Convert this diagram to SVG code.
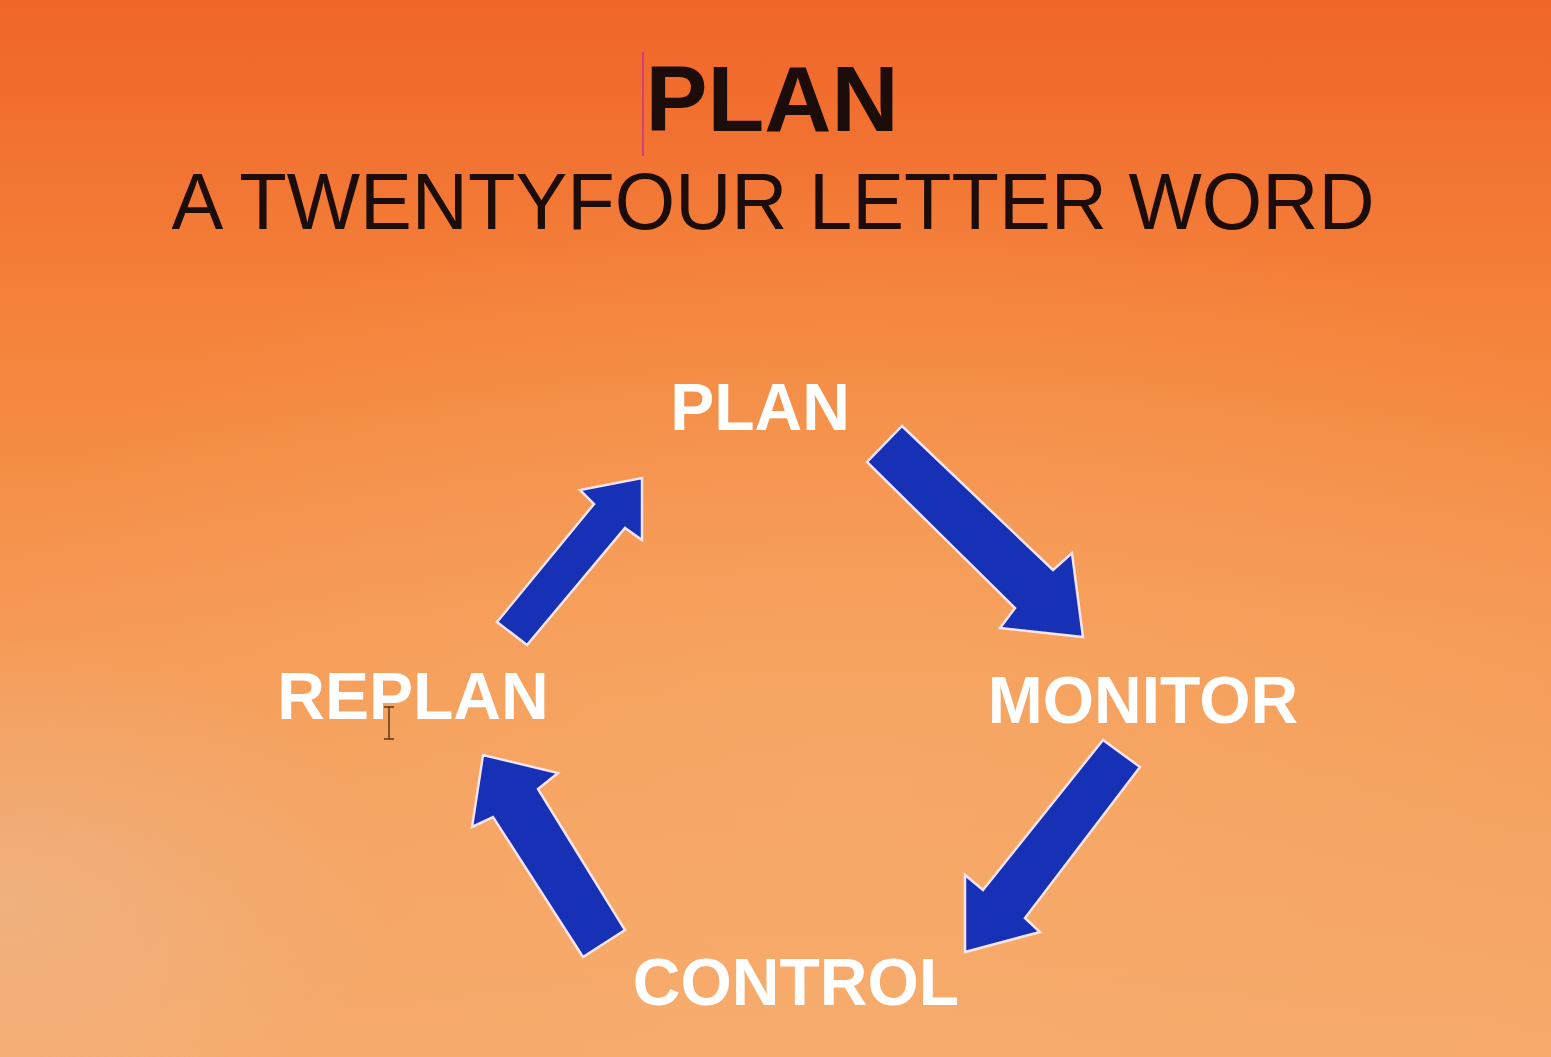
<svg xmlns="http://www.w3.org/2000/svg" width="1551" height="1057" viewBox="0 0 1551 1057">
  <defs>
    <linearGradient id="bg" x1="0" y1="0" x2="0" y2="1">
      <stop offset="0" stop-color="#f0652a"/>
      <stop offset="0.3" stop-color="#f4823a"/>
      <stop offset="0.6" stop-color="#f59a55"/>
      <stop offset="1" stop-color="#f6aa6c"/>
    </linearGradient>
    <radialGradient id="glow" cx="0.55" cy="0.75" r="0.6">
      <stop offset="0" stop-color="#f8b070" stop-opacity="0.5"/>
      <stop offset="1" stop-color="#f8b070" stop-opacity="0"/>
    </radialGradient>
    <radialGradient id="leftEdge" cx="0" cy="0.85" r="0.25" gradientTransform="translate(0,0) scale(1,1)">
      <stop offset="0" stop-color="#e8c0a0" stop-opacity="0.45"/>
      <stop offset="1" stop-color="#e8c0a0" stop-opacity="0"/>
    </radialGradient>
    <style>
      .title { font-family: "Liberation Sans", Arial, sans-serif; fill: #1c0c0a; }
      .label { font-family: "Liberation Sans", Arial, sans-serif; font-weight: bold; font-size: 66px; fill: #ffffff; text-anchor: middle; }
      .arrow { fill: #1630b6; stroke: #f4e4ef; stroke-width: 2.5; stroke-linejoin: miter; }
    </style>
  </defs>

  <rect x="0" y="0" width="1551" height="1057" fill="url(#bg)"/>
  <rect x="0" y="0" width="1551" height="1057" fill="url(#glow)"/>
  <rect x="0" y="0" width="1551" height="1057" fill="url(#leftEdge)"/>

  <g id="heading">
    <line x1="643" y1="52" x2="643" y2="156" stroke="#d0407a" stroke-width="2"/>
    <text class="title" x="772" y="131" font-size="93" font-weight="bold" text-anchor="middle">PLAN</text>
    <text class="title" x="773" y="229" font-size="79" text-anchor="middle" textLength="1203" lengthAdjust="spacingAndGlyphs">A TWENTYFOUR LETTER WORD</text>
  </g>

  <g id="node-plan">
    <text class="label" x="760" y="430">PLAN</text>
  </g>
  <g id="node-monitor">
    <text class="label" x="1143" y="723">MONITOR</text>
  </g>
  <g id="node-control">
    <text class="label" x="796" y="1005">CONTROL</text>
  </g>
  <g id="node-replan">
    <text class="label" x="413" y="719">REPLAN</text>
    <path d="M384,707 h10 M389,707 v32 M384,739 h10" stroke="#5a3a20" stroke-width="1.5" fill="none"/>
  </g>

  <g id="connectors">
    <polygon class="arrow" points="902,426 1053,570 1072,553 1083,637 1000,628 1015,608 867,462"/>
    <polygon class="arrow" points="1103,740 1140,767 1025,918 1040,932 965,952 965,875 983,890"/>
    <polygon class="arrow" points="625,930 583,957 493,817 472,827 483,755 558,773 538,789"/>
    <polygon class="arrow" points="497,622 594,504 580,490 642,478 642,540 625,528 527,645"/>
  </g>
</svg>
